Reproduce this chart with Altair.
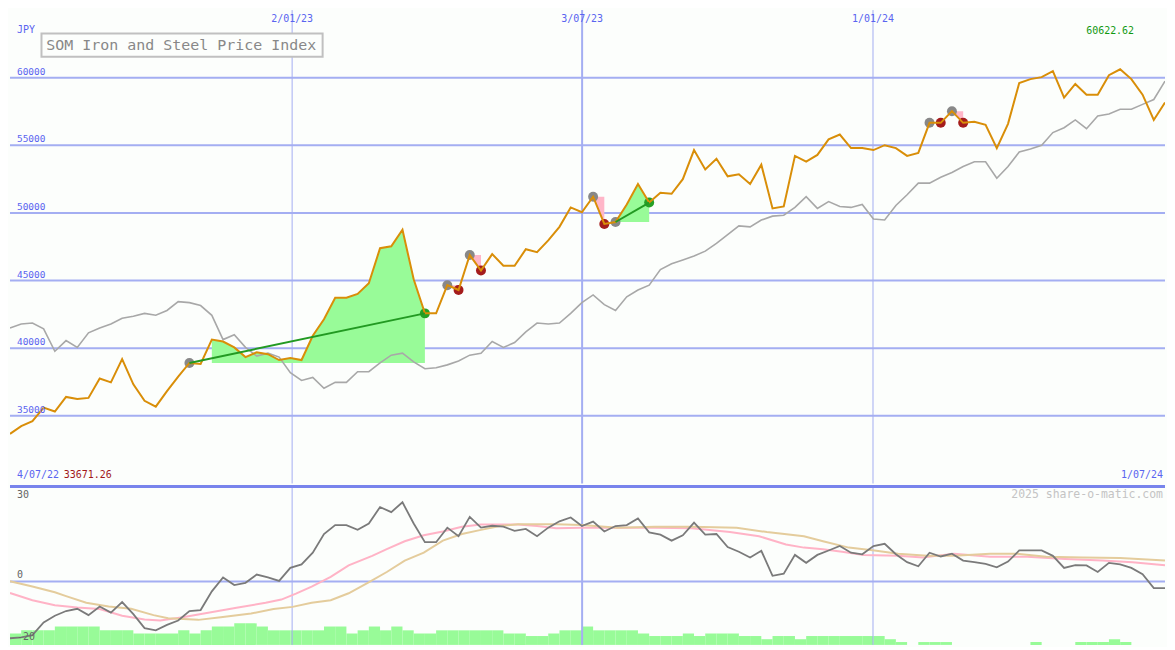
import altair as alt
import pandas as pd

# ---------------- data ----------------
weeks = list(range(104))

price = [33671, 34240, 34600, 35606, 35318, 36396, 36253, 36325, 37762, 37474,
         39199, 37331, 36109, 35678, 36828, 37906, 38912, 38840, 40637, 40493,
         40062, 39343, 39702, 39559, 39127, 39271, 39127, 40924, 42146, 43727,
         43727, 44015, 44805, 47393, 47536, 48758, 45093, 42577, 42577, 44661,
         44302, 46889, 45740, 46961, 46099, 46099, 47321, 47105, 47968, 48974,
         50411, 50052, 51202, 49189, 49333, 50627, 52136, 50770, 51489, 51417,
         52495, 54651, 53214, 54005, 52711, 52855, 52136, 53573, 50339, 50483,
         54220, 53789, 54292, 55442, 55801, 54795, 54795, 54651, 55011, 54795,
         54220, 54436, 56664, 56664, 57526, 56664, 56736, 56520, 54795, 56592,
         59610, 59898, 60042, 60480, 58532, 59539, 58748, 58748, 60185, 60622,
         59898, 58748, 56879, 58173]

compare = [41499, 41787, 41859, 41427, 39774, 40565, 40062, 41140, 41499, 41787,
           42218, 42362, 42577, 42434, 42793, 43440, 43368, 43152, 42434, 40637,
           40996, 40062, 39415, 39631, 39343, 38193, 37618, 37834, 37043, 37474,
           37474, 38265, 38265, 38912, 39487, 39631, 38984, 38481, 38553, 38768,
           39056, 39487, 39631, 40493, 40062, 40421, 41212, 41859, 41787, 41859,
           42577, 43368, 43943, 43224, 42793, 43799, 44302, 44661, 45811, 46243,
           46530, 46818, 47177, 47752, 48399, 49046, 48974, 49477, 49764, 49836,
           50411, 51202, 50339, 50842, 50483, 50411, 50627, 49549, 49477, 50555,
           51345, 52208, 52208, 52639, 52999, 53430, 53789, 53789, 52567, 53430,
           54508, 54724, 55011, 55945, 56304, 56879, 56233, 57167, 57311, 57670,
           57670, 58029, 58389, 59754]

osc = [-17.9, -17.6, -16.9, -12.9, -10.8, -9.3, -8.6, -10.6, -7.9, -9.8,
       -6.5, -10.3, -14.7, -15.4, -13.7, -12.3, -9.3, -9.0, -3.1, 1.3,
       -1.1, -0.4, 2.2, 1.3, 0.2, 4.3, 5.4, 9.1, 15.0, 17.8,
       17.8, 16.3, 18.3, 23.5, 21.9, 25.0, 18.3, 12.4, 12.4, 17.0,
       14.3, 20.4, 17.0, 17.6, 17.3, 16.0, 16.6, 14.3, 17.0, 19.0,
       20.2, 17.5, 18.9, 15.8, 17.5, 17.8, 19.9, 15.5, 14.8, 12.9,
       14.6, 18.6, 14.8, 15.0, 10.9, 9.4, 7.6, 9.7, 1.8, 2.5,
       8.4, 5.9, 8.4, 9.8, 11.2, 9.1, 8.6, 11.2, 11.9, 8.6,
       6.1, 4.8, 9.1, 7.9, 8.8, 6.6, 6.1, 5.6, 4.5, 6.3,
       9.8, 9.8, 9.8, 8.1, 4.3, 5.2, 5.1, 3.0, 5.9, 5.4,
       4.3, 2.3, -2.1, -2.1]

pink_ma_x = [0, 2, 4, 6, 8, 10, 12, 13.4, 15.4, 17.8,
             20.2, 22.8, 24.2, 25.5, 26.9, 28.6, 30.2, 32.3, 33.6, 35.2,
             36.9, 38.6, 40.3, 42, 43.7, 45.3, 47, 48.7, 51, 54.2,
             57.5, 60.8, 64.2, 66.8, 69.2, 70.8, 72.5, 74.2, 76.1, 79.2,
             81.4, 84.2, 87.4, 90.7, 94.1, 97.4, 100.1, 103]
pink_ma = [-3.6, -5.9, -7.5, -8.2, -8.7, -10.8, -12.0, -12.3, -11.3, -9.8,
           -8.3, -6.7, -5.7, -3.8, -1.6, 1.5, 5.1, 8.1, 10.2, 12.7,
           14.6, 15.8, 17.3, 18.0, 18.0, 18.0, 17.5, 16.8, 17.0, 17.0,
           17.0, 16.8, 15.6, 14.3, 11.7, 10.7, 10.2, 9.4, 8.4, 8.1,
           7.6, 8.8, 7.8, 7.8, 7.1, 6.6, 6.1, 5.1]

tan_ma_x = [0, 2, 4, 5, 6.8, 8.8, 10.8, 12.8, 14.1, 16.8,
            18.8, 21.5, 23.5, 25.2, 26.9, 28.6, 30.2, 31.9, 33.6, 35.2,
            36.9, 38.6, 40.3, 42, 43.7, 45.3, 48.7, 51, 54.2, 57.5,
            60.8, 64.8, 67.5, 70.8, 72.5, 74.8, 77.1, 79.2, 81.8, 84.2,
            87.4, 89.8, 92.4, 95.7, 99, 103]
tan_ma = [0.1, -1.6, -3.4, -4.6, -6.7, -7.9, -8.6, -10.6, -11.6, -12.1,
          -11.3, -10.1, -8.7, -8.0, -6.7, -5.9, -3.7, -0.4, 3.0, 6.6,
          9.1, 12.9, 15.0, 16.3, 17.5, 18.1, 18.1, 17.8, 17.0, 17.3,
          17.3, 17.0, 15.6, 14.3, 12.7, 10.7, 9.8, 8.8, 8.1, 8.1,
          8.8, 8.8, 7.8, 7.6, 7.4, 6.6]

volume = [3.6, 4.6, 4.6, 4.6, 5.8, 5.8, 5.8, 5.8, 4.6, 4.6,
          4.6, 3.6, 3.6, 3.6, 3.6, 4.6, 3.6, 4.6, 5.8, 5.8,
          6.8, 6.8, 5.8, 4.6, 4.6, 4.6, 4.6, 4.6, 5.8, 5.8,
          3.6, 4.6, 5.8, 4.6, 5.8, 4.6, 3.6, 3.6, 4.6, 4.6,
          4.6, 4.6, 4.6, 4.6, 3.6, 3.6, 2.8, 2.8, 3.6, 4.6,
          4.6, 5.8, 4.6, 4.6, 4.6, 4.6, 3.6, 2.8, 2.8, 2.8,
          3.6, 2.8, 3.6, 3.6, 3.6, 2.8, 2.8, 1.8, 2.8, 2.8,
          1.8, 2.8, 2.8, 2.8, 2.8, 2.8, 2.8, 2.8, 1.8, 0.9,
          0, 0.9, 0.9, 0.9, 0, 0, 0, 0, 0, 0,
          0, 0.9, 0, 0, 0, 0.9, 0.9, 0.9, 1.8, 0.9,
          0, 0, 0, 0]

y_ticks = [35000, 40000, 45000, 50000, 55000, 60000]
y_tick_labels = ["35000", "40000", "45000", "50000", "55000", "60000"]
grid_week = [25.16, 51.02, 76.96]
grid_label = ["2/01/23", "3/07/23", "1/01/24"]
grid_width = [1, 2, 1]

trade_entry = [16, 39, 41, 52, 54, 82, 84]
trade_exit = [37, 40, 42, 53, 57, 83, 85]
trade_fill_from = [18, 39, 41, 52, 54, 82, 84]
trade_result = ["win", "loss", "loss", "loss", "win", "loss", "loss"]

# ---------------- styling ----------------
W = 1159
H1 = 475
H2 = 159
BG = "#fcfefc"
GRID = "#a4aef2"
BLUE_TXT = "#5a64f0"
FONT = "DejaVu Sans Mono"

xs = alt.Scale(domain=[0, 103], nice=False, zero=False)
ys = alt.Scale(domain=[30000, 65000], nice=False, zero=False)
ys2 = alt.Scale(domain=[-20, 30], nice=False, zero=False)


def X(f):
    return alt.X(f, type="quantitative", scale=xs, axis=None)


def Yp(f):
    return alt.Y(f, type="quantitative", scale=ys, axis=None)


def txt(label, x, y, color, size, align="left", baseline="middle"):
    return alt.Chart(pd.DataFrame({"t": [label]})).mark_text(
        align=align, baseline=baseline, font=FONT, fontSize=size, color=color
    ).encode(text="t:N", x=alt.value(x), y=alt.value(y))


# ---------------- frames ----------------
main_df = pd.DataFrame({"week": weeks, "price": price, "compare": compare})
grid_df = pd.DataFrame({"week": grid_week, "label": grid_label, "w": grid_width})
ytick_df = pd.DataFrame({"v": y_ticks, "label": y_tick_labels})

fill_rows, trend_rows, dot_rows = [], [], []
for k, (e, x, f, r) in enumerate(zip(trade_entry, trade_exit, trade_fill_from, trade_result)):
    base = price[e]
    for i in range(f, x + 1):
        fill_rows.append({"trade": k, "week": i, "price": price[i], "base": base, "result": r})
    if r == "win":
        trend_rows.append({"trade": k, "week": e, "price": price[e]})
        trend_rows.append({"trade": k, "week": x, "price": price[x]})
    dot_rows.append({"week": e, "price": price[e], "kind": "entry"})
    dot_rows.append({"week": x, "price": price[x], "kind": r})
fill_df = pd.DataFrame(fill_rows)
trend_df = pd.DataFrame(trend_rows)
dot_df = pd.DataFrame(dot_rows)

osc_df = pd.DataFrame({"week": weeks, "osc": osc})
pink_df = pd.DataFrame({"week": pink_ma_x, "v": pink_ma})
tan_df = pd.DataFrame({"week": tan_ma_x, "v": tan_ma})
vol_df = pd.DataFrame({"week": weeks, "week_end": [w + 1 for w in weeks],
                       "low": [-20] * len(weeks), "high": [-20 + v for v in volume]})
vol_df = vol_df[vol_df["high"] > -20]

# ---------------- top panel ----------------
hgrid = alt.Chart(ytick_df).mark_rule(color=GRID, strokeWidth=2).encode(y=Yp("v"))
vgrid = alt.Chart(grid_df).mark_rule(color=GRID).encode(
    x=X("week"), strokeWidth=alt.StrokeWidth("w:Q", scale=None))


def fill_chart(result, colour):
    return alt.Chart(fill_df[fill_df["result"] == result]).mark_area(
        opacity=1, color=colour
    ).encode(x=X("week"), y=Yp("price"), y2=alt.Y2("base:Q"), detail="trade:N")


def dot_chart(kind, colour):
    return alt.Chart(dot_df[dot_df["kind"] == kind]).mark_circle(
        size=100, opacity=1, color=colour
    ).encode(x=X("week"), y=Yp("price"))


comp_line = alt.Chart(main_df).mark_line(color="#a8a8a8", strokeWidth=1.6, clip=True).encode(
    x=X("week"), y=Yp("compare"))
price_line = alt.Chart(main_df).mark_line(color="#d98e08", strokeWidth=2, clip=True).encode(
    x=X("week"), y=Yp("price"))
trend = alt.Chart(trend_df).mark_line(color="#229a22", strokeWidth=2).encode(
    x=X("week"), y=Yp("price"), detail="trade:N")

ylabels = alt.Chart(ytick_df).mark_text(
    align="left", baseline="alphabetic", dy=-3, font=FONT, fontSize=9.5, color=BLUE_TXT
).encode(x=alt.value(7), y=Yp("v"), text="label:N")
xlabels = alt.Chart(grid_df).mark_text(
    align="center", baseline="middle", font=FONT, fontSize=10, color=BLUE_TXT
).encode(x=X("week"), y=alt.value(9), text="label:N")

title_box = alt.Chart(pd.DataFrame({"a": [0]})).mark_rect(
    fill=BG, stroke="#c0c0c0", strokeWidth=2
).encode(x=alt.value(31.6), x2=alt.value(313.7), y=alt.value(23.4), y2=alt.value(46.8))

top = alt.layer(
    hgrid, vgrid,
    fill_chart("win", "#98fb98"), fill_chart("loss", "#ffb6c8"),
    comp_line,
    dot_chart("entry", "#888888"), dot_chart("loss", "#a41c1c"), dot_chart("win", "#26a026"),
    price_line, trend,
    ylabels, xlabels,
    txt("JPY", 7, 19.5, BLUE_TXT, 10),
    title_box,
    txt("SOM Iron and Steel Price Index", 36.5, 35.5, "#888888", 15),
    txt("60622.62", 1128, 20.5, "#119911", 10, align="right"),
    txt("4/07/22", 7, 467, BLUE_TXT, 10),
    txt("33671.26", 54, 467, "#a01818", 10),
    txt("1/07/24", 1157, 467, BLUE_TXT, 10, align="right"),
).properties(width=W, height=H1)

# ---------------- bottom panel ----------------
vol_bars = alt.Chart(vol_df).mark_rect(color="#98fb98", clip=True).encode(
    x=X("week"), x2="week_end:Q",
    y=alt.Y("low:Q", scale=ys2, axis=None), y2="high:Q")
zero_rule = alt.Chart(pd.DataFrame({"v": [0]})).mark_rule(color=GRID, strokeWidth=2).encode(
    y=alt.Y("v:Q", scale=ys2, axis=None))
vgrid2 = alt.Chart(grid_df).mark_rule(color=GRID).encode(
    x=X("week"), strokeWidth=alt.StrokeWidth("w:Q", scale=None))
pink_line = alt.Chart(pink_df).mark_line(color="#ffb3c6", strokeWidth=2, clip=True).encode(
    x=X("week"), y=alt.Y("v:Q", scale=ys2, axis=None))
tan_line = alt.Chart(tan_df).mark_line(color="#e4cc9c", strokeWidth=2, clip=True).encode(
    x=X("week"), y=alt.Y("v:Q", scale=ys2, axis=None))
osc_line = alt.Chart(osc_df).mark_line(color="#7a7a7a", strokeWidth=1.8, clip=True).encode(
    x=X("week"), y=alt.Y("osc:Q", scale=ys2, axis=None))
border = alt.Chart(pd.DataFrame({"a": [0]})).mark_rule(color="#7884ec", strokeWidth=3).encode(
    y=alt.value(0))

bottom = alt.layer(
    vol_bars, zero_rule, vgrid2, pink_line, tan_line, osc_line, border,
    txt("30", 7, 9, "#666666", 10),
    txt("0", 7, 89, "#666666", 10),
    txt("-20", 7, 151, "#666666", 10),
    txt("2025 share-o-matic.com", 1157, 9, "#c4c4c4", 11.5, align="right"),
).properties(width=W, height=H2)

chart = alt.vconcat(top, bottom, spacing=0).properties(
    padding=0, background=BG
).configure_view(stroke=None)

chart.save("out.html", embed_options={"renderer": "svg", "actions": False})
